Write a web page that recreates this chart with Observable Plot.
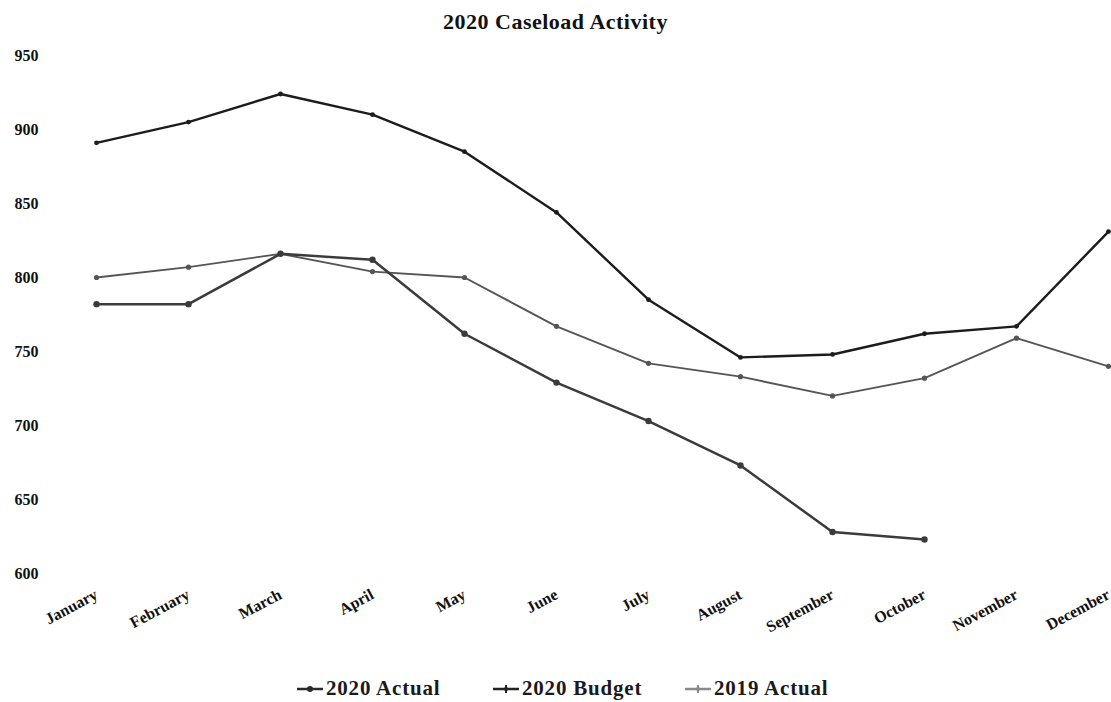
<!DOCTYPE html>
<html>
<head>
<meta charset="utf-8">
<script src="https://cdn.jsdelivr.net/npm/d3@7"></script>
<script src="https://cdn.jsdelivr.net/npm/@observablehq/plot@0.6"></script>
<style>
  html, body { margin: 0; padding: 0; background: #fff; }
  body { width: 1111px; height: 702px; position: relative; overflow: hidden;
         font-family: "Liberation Serif", "Times New Roman", serif; }
  #title { position: absolute; left: 0; width: 1111px; top: 9px; text-align: center;
           font-weight: bold; font-size: 22px; letter-spacing: 0.5px; color: #111; }
  #chart { position: absolute; left: 0; top: 40px; }
  #legend { position: absolute; left: 0; top: 676px; width: 1111px; height: 26px; }
  .item { position: absolute; top: 0; display: flex; align-items: center;
          font-weight: bold; font-size: 21px; letter-spacing: 0.8px; color: #1a1a1a; }
  .item svg { margin-right: 2px; }
</style>
</head>
<body>
<div id="title">2020 Caseload Activity</div>
<div id="chart"></div>
<div id="legend"></div>
<script>
const months = ["January","February","March","April","May","June","July","August","September","October","November","December"];
const budget2020 = [891, 905, 924, 910, 885, 844, 785, 746, 748, 762, 767, 831];
const actual2020 = [782, 782, 816, 812, 762, 729, 703, 673, 628, 623];
const actual2019 = [800, 807, 816, 804, 800, 767, 742, 733, 720, 732, 759, 740];
const yTicks = [600, 650, 700, 750, 800, 850, 900, 950];

const seriesNames = ["2020 Actual", "2020 Budget", "2019 Actual"];
const seriesColors = ["#3b3b3b", "#1c1c1c", "#555555"];
const legendColors = ["#2a2a2a", "#222222", "#8a8a8a"];

const rows = (name, vals) => vals.map((v, i) => ({series: name, month: months[i], value: v}));
const dBudget = rows("2020 Budget", budget2020);
const dA20 = rows("2020 Actual", actual2020);
const dA19 = rows("2019 Actual", actual2019);

const font = "Liberation Serif, Times New Roman, serif";

const chart = Plot.plot({
  width: 1111,
  height: 620,
  marginLeft: 95,
  marginRight: 2,
  marginTop: 15,
  marginBottom: 87,
  style: {fontFamily: font, background: "transparent", color: "#111"},
  x: {type: "point", domain: months, padding: 0},
  y: {domain: [600, 950]},
  marks: [
    Plot.axisY({ticks: yTicks, tickSize: 0, tickPadding: 57, fontSize: 16, fontWeight: "bold", label: null}),
    Plot.axisX({tickSize: 0, tickRotate: -28, textAnchor: "end", tickPadding: 20, fontSize: 16, fontWeight: "bold", label: null}),
    Plot.line(dA19, {x: "month", y: "value", stroke: seriesColors[2], strokeWidth: 1.9}),
    Plot.dot(dA19, {x: "month", y: "value", fill: seriesColors[2], r: 2.6}),
    Plot.line(dA20, {x: "month", y: "value", stroke: seriesColors[0], strokeWidth: 2.5}),
    Plot.dot(dA20, {x: "month", y: "value", fill: seriesColors[0], r: 3.2}),
    Plot.line(dBudget, {x: "month", y: "value", stroke: seriesColors[1], strokeWidth: 2.4}),
    Plot.dot(dBudget, {x: "month", y: "value", fill: seriesColors[1], r: 2.4})
  ]
});
document.getElementById("chart").appendChild(chart);

// Legend
const legendLeft = [296, 492, 684];
const legend = document.getElementById("legend");
seriesNames.forEach((name, i) => {
  const div = document.createElement("div");
  div.className = "item";
  div.style.left = legendLeft[i] + "px";
  const marker = i === 0
    ? `<circle cx="14" cy="12" r="3" fill="${legendColors[i]}"/>`
    : `<path d="M14 8 L14 16" stroke="${legendColors[i]}" stroke-width="2"/><circle cx="14" cy="12" r="2" fill="${legendColors[i]}"/>`;
  div.innerHTML = `<svg width="28" height="24"><line x1="1" y1="12" x2="27" y2="12" stroke="${legendColors[i]}" stroke-width="2.5"/>${marker}</svg><span>${name}</span>`;
  legend.appendChild(div);
});
</script>
</body>
</html>
